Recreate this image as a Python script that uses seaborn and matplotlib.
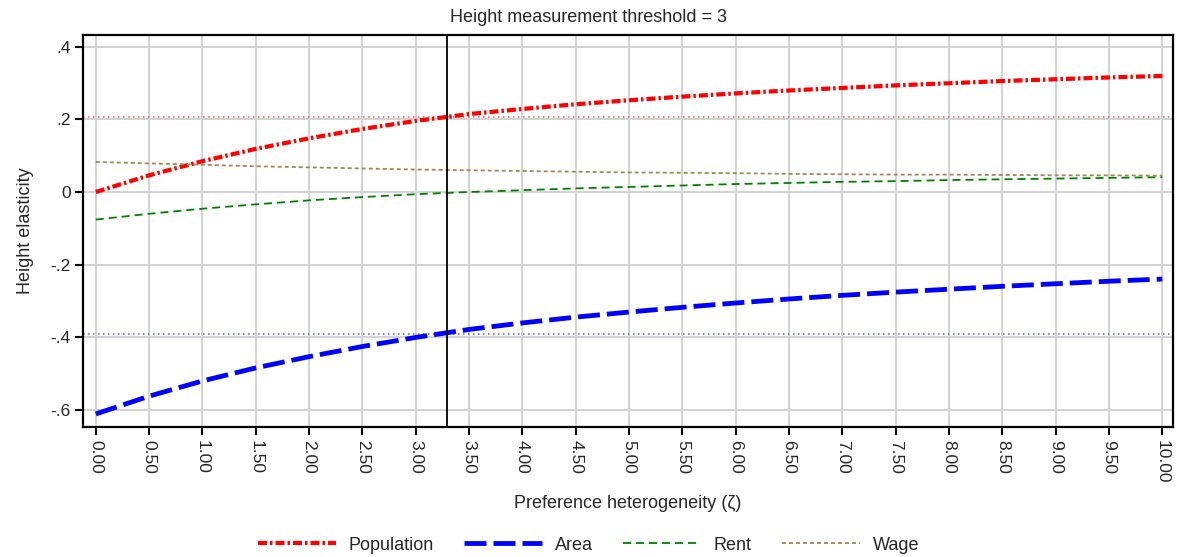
import numpy as np
import pandas as pd
import matplotlib
matplotlib.use("Agg")
import matplotlib.pyplot as plt
import seaborn as sns

zeta = [0.0, 0.5, 1.0, 1.5, 2.0, 2.5, 3.0, 3.5, 4.0, 4.5, 5.0, 5.5, 6.0, 6.5, 7.0,
        7.5, 8.0, 8.5, 9.0, 9.5, 10.0]
population = [0.000, 0.046, 0.085, 0.119, 0.148, 0.174, 0.196, 0.215, 0.229, 0.242, 0.253,
              0.263, 0.272, 0.280, 0.287, 0.294, 0.300, 0.306, 0.311, 0.316, 0.320]
area = [-0.612, -0.563, -0.521, -0.485, -0.454, -0.426, -0.401, -0.379, -0.361, -0.345, -0.331,
        -0.318, -0.306, -0.295, -0.285, -0.276, -0.268, -0.260, -0.253, -0.246, -0.240]
rent = [-0.076, -0.060, -0.046, -0.034, -0.023, -0.014, -0.006, 0.000, 0.005, 0.010, 0.014,
        0.018, 0.022, 0.025, 0.028, 0.030, 0.033, 0.035, 0.037, 0.039, 0.041]
wage = [0.083, 0.079, 0.075, 0.071, 0.068, 0.065, 0.062, 0.060, 0.058, 0.056, 0.054,
        0.053, 0.052, 0.050, 0.049, 0.048, 0.048, 0.047, 0.046, 0.046, 0.045]
threshold_zeta = 3.29
ref_population = 0.208
ref_area = -0.392
x_ticks = [i * 0.5 for i in range(21)]
y_ticks = [-0.6, -0.4, -0.2, 0.0, 0.2, 0.4]
y_ticklabels = ["-.6", "-.4", "-.2", "0", ".2", ".4"]

sns.set_style("white")
plt.rcParams["font.family"] = ["Liberation Sans", "DejaVu Sans"]
plt.rcParams["lines.scale_dashes"] = False

fig = plt.figure(figsize=(11.77, 5.57), dpi=100)
ax = fig.add_axes([83 / 1177, 1 - 427 / 557, (1173 - 83) / 1177, (427 - 35) / 557])

df = pd.DataFrame({"zeta": zeta, "Population": population, "Area": area,
                   "Rent": rent, "Wage": wage})

px = 0.72
styles = {
    "Population": dict(color="#FF0000", lw=4.2 * px, dashes=(9 * px, 3 * px, 2.5 * px, 3 * px)),
    "Area": dict(color="#0000FF", lw=4.8 * px, dashes=(22 * px, 7 * px)),
    "Rent": dict(color="#008000", lw=1.8 * px, dashes=(8 * px, 5 * px)),
    "Wage": dict(color="#A0894F", lw=1.8 * px, dashes=(4 * px, 3 * px)),
}

ax.grid(True, color="#D3D3D3", lw=2 * px, zorder=0)
ax.set_axisbelow(True)

ax.axhline(ref_population, color="#FF6060", lw=1.6 * px, ls=(0, (1.5 * px, 3.5 * px)), zorder=1.5)
ax.axhline(ref_area, color="#6060FF", lw=1.6 * px, ls=(0, (1.5 * px, 3.5 * px)), zorder=1.5)
ax.axvline(threshold_zeta, color="black", lw=1.8 * px, zorder=3)

handles = []
for name in ["Population", "Area", "Rent", "Wage"]:
    st = styles[name]
    sns.lineplot(data=df, x="zeta", y=name, ax=ax, color=st["color"], lw=st["lw"],
                 label=name, zorder=2, legend=False)
    line = ax.get_lines()[-1]
    line.set_dashes(st["dashes"])
    handles.append(line)

ax.set_xlim(-0.12, 10.1)
ax.set_ylim(-0.648, 0.433)
ax.set_xticks(x_ticks)
ax.set_xticklabels([f"{t:.2f}" for t in x_ticks], rotation=270, fontsize=12.5)
ax.set_yticks(y_ticks)
ax.set_yticklabels(y_ticklabels, fontsize=12.5)
ax.tick_params(axis="both", direction="out", length=6, width=1.5, color="black",
               bottom=True, left=True, pad=3)

for s in ax.spines.values():
    s.set_color("black")
    s.set_linewidth(1.6)

ax.set_xlabel("Preference heterogeneity (\u03b6)", fontsize=13, labelpad=9)
ax.set_ylabel("Height elasticity", fontsize=13, labelpad=12)
fig.text(0.5, 1 - 18 / 557, "Height measurement threshold = 3", fontsize=13,
         ha="center", va="center")

fig.legend(handles=handles, labels=["Population", "Area", "Rent", "Wage"],
           loc="center", bbox_to_anchor=(0.5, 1 - 545 / 557), ncol=4, frameon=False,
           fontsize=13, handlelength=4.3, columnspacing=1.7, handletextpad=0.7)

fig.savefig("out.png", dpi=100)
